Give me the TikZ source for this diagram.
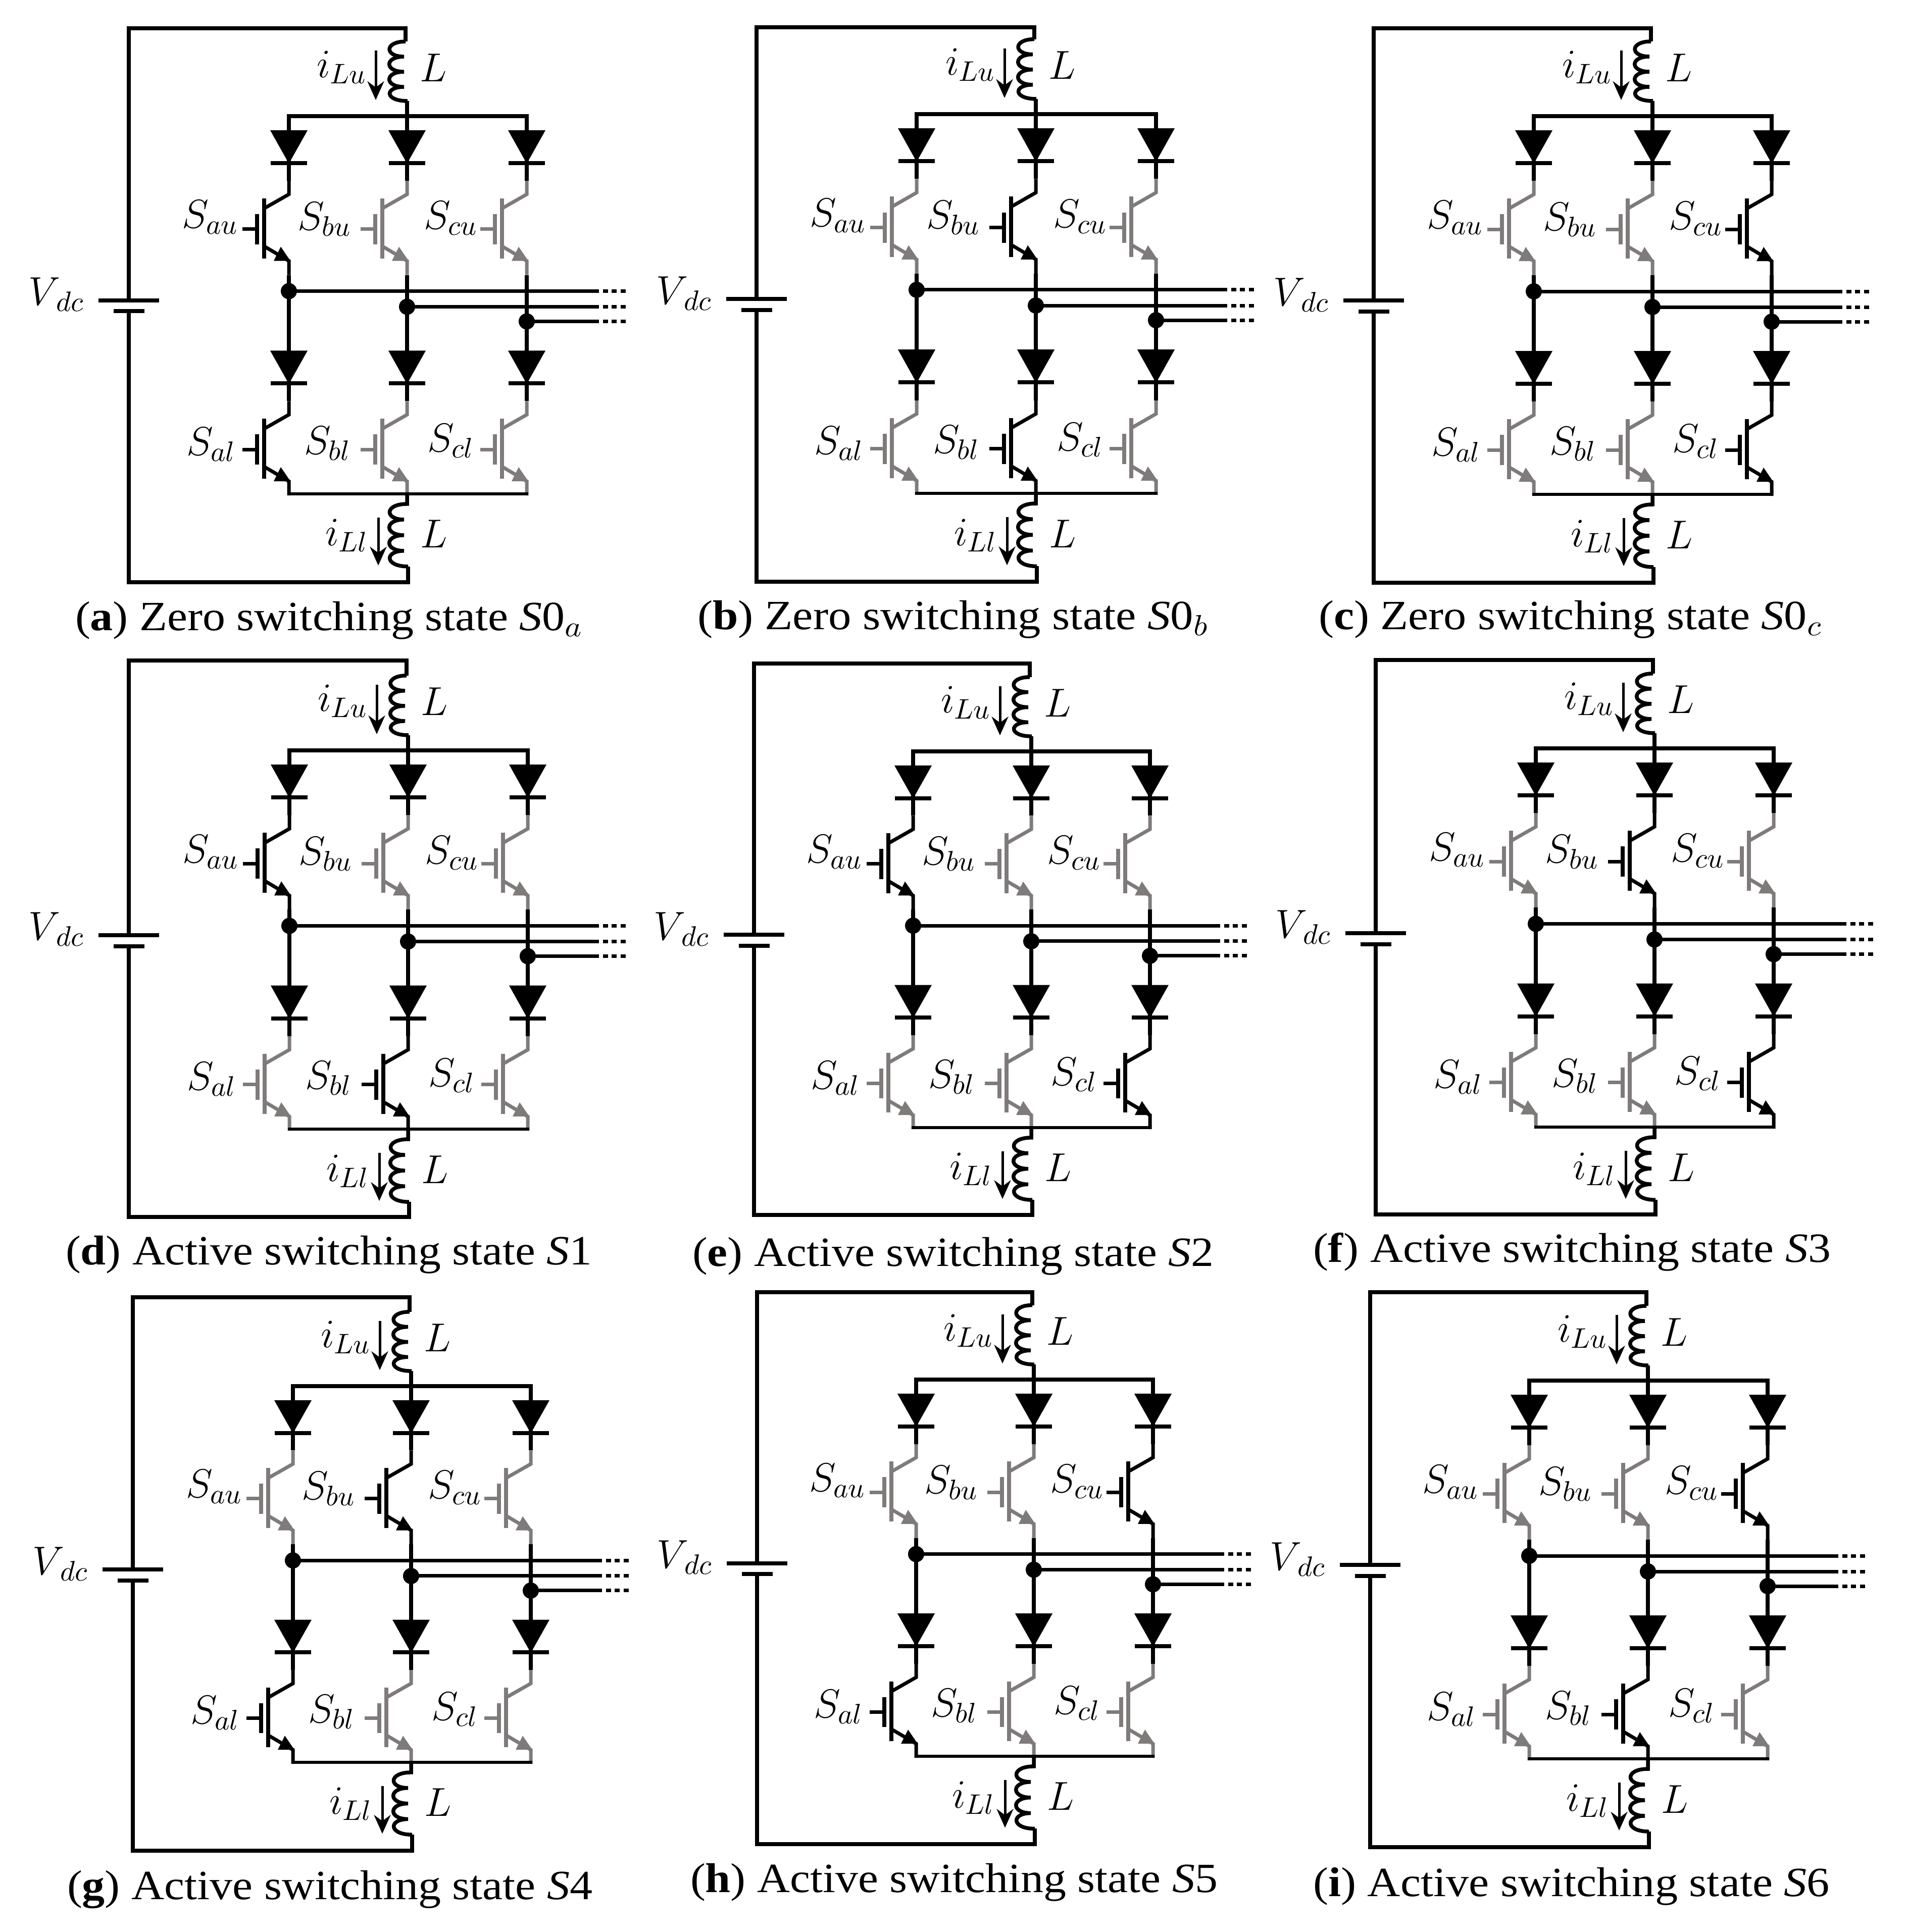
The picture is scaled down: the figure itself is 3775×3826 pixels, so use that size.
\RequirePackage{fix-cm}
\documentclass[tikz,border=0pt]{standalone}
\usepackage{fontspec}
\newfontfamily\capfont{Liberation Serif}
\usetikzlibrary{arrows.meta}
\definecolor{offgray}{HTML}{7F7B7B}
\tikzset{
  wire/.style={draw=black,line width=1.5pt,line join=miter},
  thinwire/.style={draw=black,line width=1.3pt},
  phaseline/.style={draw=black,line width=1.4pt},
  phasedots/.style={draw=black,line width=1.4pt,dash pattern=on 2pt off 1.5pt},
  plate/.style={draw=black,line width=1.6pt},
  jdot/.style={circle,fill=black,draw=none,inner sep=0pt,minimum size=6.4pt},
  lab/.style={anchor=base west,inner sep=0pt,font=\fontsize{16}{19}\selectfont},
  captext/.style={anchor=base west,inner sep=0pt,font=\fontsize{16.5}{20}\selectfont},
  currentarrow/.style={draw=black,line width=1pt,-{Stealth[length=7.4pt,width=6.6pt,inset=2.4pt]}},
}
% one switch with its leads; #1 leg x, #2 vertical offset, #3 colour
\newcommand\igbtsw[3]{%
  \begin{scope}[shift={(0,#2)}]
    \draw[draw=#3,line width=1.4pt] (#1,128) -- (#1,155) -- (#1-49,183);
    \draw[draw=#3,line width=1.45pt] (#1-49,163) -- (#1-49,282);
    \draw[draw=#3,line width=1.6pt] (#1-63,194) -- (#1-63,254);
    \draw[draw=#3,line width=1.4pt] (#1-92,224) -- (#1-63,224);
    \draw[draw=#3,line width=1.4pt] (#1-49,258) -- (#1,287) -- (#1,315);
    \fill[#3] (#1-16,259) -- (#1+3,287) -- (#1-30,287) -- cycle;
  \end{scope}}
% one diode; #1 leg x, #2 vertical offset
\newcommand\diodeup[2]{%
  \begin{scope}[shift={(0,#2)}]
    \fill[black] (#1-37,28) -- (#1+37,28) -- (#1,94) -- cycle;
    \draw[plate] (#1-36,93) -- (#1+36,93);
  \end{scope}}
% #1 id, #2 rail x, #3 xa, #4 xb, #5 xc, #6 top y, #7 bus y, #8 bottom bus y, #9 bottom y
\newcommand\panelgeom[9]{%
  \def\pid{#1}\def\rail{#2}\def\xa{#3}\def\xb{#4}\def\xc{#5}%
  \def\ytop{#6}\def\ybus{#7}\def\ybb{#8}\def\ybot{#9}}
% #1 solid end, #2 dotted end, #3 upper on-leg (1..3), #4 lower on-leg (1..3)
% #5 caption x, #6 caption baseline, #7 caption width, #8 caption text
\newcommand\paneldraw[8]{%
  \pgfmathsetmacro\ysc{(\ybb-\ybus)/749}%
  \pgfmathsetlengthmacro\capw{(#7)*0.2pt}%
  \begin{scope}[shift={(0,\ybus)},yscale=\ysc]
    % switches
    \ifnum#3=1 \def\ca{black}\else\def\ca{offgray}\fi
    \ifnum#3=2 \def\cb{black}\else\def\cb{offgray}\fi
    \ifnum#3=3 \def\cc{black}\else\def\cc{offgray}\fi
    \ifnum#4=1 \def\da{black}\else\def\da{offgray}\fi
    \ifnum#4=2 \def\db{black}\else\def\db{offgray}\fi
    \ifnum#4=3 \def\dc{black}\else\def\dc{offgray}\fi
    \igbtsw{\xa}{0}{\ca}\igbtsw{\xb}{0}{\cb}\igbtsw{\xc}{0}{\cc}%
    \igbtsw{\xa}{437}{\da}\igbtsw{\xb}{437}{\db}\igbtsw{\xc}{437}{\dc}%
    % diodes
    \diodeup{\xa}{0}\diodeup{\xb}{0}\diodeup{\xc}{0}%
    \diodeup{\xa}{437}\diodeup{\xb}{437}\diodeup{\xc}{437}%
    % legs
    \foreach \lx in {\xa,\xb,\xc}{
      \draw[wire] (\lx,0) -- (\lx,128);
      \draw[wire] (\lx,315) -- (\lx,565);
    }
    % buses
    \draw[wire] (\xa,30) -- (\xa,0) -- (\xc,0) -- (\xc,30);
    \draw[thinwire] (\xa-3,749) -- (\xc+3,749);
    \draw[wire] (\xb,0) -- (\xb,-30);
    % junctions and phase lines
    \node[jdot] (\pid-ja) at (\xa,347) {};
    \node[jdot] (\pid-jb) at (\xb,378) {};
    \node[jdot] (\pid-jc) at (\xc,407) {};
    \coordinate (\pid-ea) at (#1,347);
    \coordinate (\pid-eb) at (#1,378);
    \coordinate (\pid-ec) at (#1,407);
    \coordinate (\pid-fa) at (#2,347);
    \coordinate (\pid-fb) at (#2,378);
    \coordinate (\pid-fc) at (#2,407);
    \foreach \ph in {a,b,c}{
      \draw[phaseline] (\pid-j\ph.center) -- (\pid-e\ph);
      \draw[phasedots] (\pid-e\ph) -- (\pid-f\ph);
    }
    % inductors
    \draw[wire] (\xb-3,-148) .. controls (\xb-45,-148) and (\xb-45,-118) .. (\xb-6,-118)
       .. controls (\xb-45,-118) and (\xb-45,-88) .. (\xb-6,-88)
       .. controls (\xb-45,-88) and (\xb-45,-58) .. (\xb-6,-58)
       .. controls (\xb-45,-58) and (\xb-45,-30) .. (\xb+1,-30);
    \draw[wire] (\xb,749) -- (\xb,769) .. controls (\xb-45,769) and (\xb-45,800) .. (\xb-6,800)
       .. controls (\xb-45,800) and (\xb-45,831) .. (\xb-6,831)
       .. controls (\xb-45,831) and (\xb-45,862) .. (\xb-6,862)
       .. controls (\xb-45,862) and (\xb-45,893) .. (\xb+2,893);
    \coordinate (\pid-lt) at (\xb-3,-148);
    \coordinate (\pid-lb) at (\xb+2,893);
    % current arrows
    \draw[currentarrow] (\xb-62,-130) -- (\xb-62,-32);
    \draw[currentarrow] (\xb-57,796) -- (\xb-57,891);
    % battery
    \coordinate (\pid-bt) at (\rail,365);
    \coordinate (\pid-bb) at (\rail,387);
    \draw[plate] (\rail-60,365) -- (\rail+60,365);
    \draw[plate] (\rail-30,387) -- (\rail+31,387);
    % labels
    \node[lab] (\pid-sau) at (\xa-213,222) {$S_{au}$};
    \node[lab] (\pid-sbu) at (\xb-218,226) {$S_{bu}$};
    \node[lab] (\pid-scu) at (\xc-205,224) {$S_{cu}$};
    \node[lab] (\pid-sal) at (\xa-204,672) {$S_{al}$};
    \node[lab] (\pid-sbl) at (\xb-205,670) {$S_{bl}$};
    \node[lab] (\pid-scl) at (\xc-198,665) {$S_{cl}$};
    \node[lab] (\pid-ilu) at (\xb-180,-77) {$i_{Lu}$};
    \node[lab] (\pid-ill) at (\xb-163,852) {$i_{Ll}$};
    \node[lab] (\pid-lu) at (\xb+24,-69) {$L$};
    \node[lab] (\pid-ll) at (\xb+25,856) {$L$};
    \node[lab] (\pid-vdc) at (\rail-200,375) {$V_{\,dc}$};
  \end{scope}
  % outer rails
  \draw[wire] (\pid-bt) -- (\rail,\ytop) -- (\xb-3,\ytop) -- (\pid-lt);
  \draw[wire] (\pid-bb) -- (\rail,\ybot) -- (\xb+2,\ybot) -- (\pid-lb);
  % caption
  \node[captext] (\pid-cap) at (#5,#6) {\resizebox{\capw}{\height}{\capfont #8}};
}
\begin{document}
\begin{tikzpicture}[x=0.2pt,y=-0.2pt]
\useasboundingbox (0,0) rectangle (3775,3826);
\panelgeom{a}{255}{572}{806}{1043}{56}{230}{978}{1153}
\paneldraw{1176}{1240}{1}{1}{148}{1248}{1006}{(\textbf{a}) Zero switching state \textit{S}0$_{a}$}
\panelgeom{b}{1498}{1815}{2051}{2289}{54}{226}{977}{1152}
\paneldraw{2420}{2487}{2}{2}{1380}{1246}{1012}{(\textbf{b}) Zero switching state \textit{S}0$_{b}$}
\panelgeom{c}{2720}{3037}{3272}{3508}{56}{230}{979}{1154}
\paneldraw{3638}{3703}{3}{3}{2610}{1246}{997}{(\textbf{c}) Zero switching state \textit{S}0$_{c}$}
\panelgeom{d}{255}{573}{808}{1045}{1308}{1486}{2236}{2410}
\paneldraw{1176}{1239}{1}{2}{129}{2504}{1042}{(\textbf{d}) Active switching state \textit{S}1}
\panelgeom{e}{1493}{1808}{2042}{2277}{1314}{1488}{2233}{2406}
\paneldraw{2406}{2474}{1}{3}{1370}{2507}{1032}{(\textbf{e}) Active switching state \textit{S}2}
\panelgeom{f}{2724}{3041}{3276}{3512}{1307}{1482}{2232}{2405}
\paneldraw{3646}{3710}{2}{3}{2599}{2499}{1025}{(\textbf{f}) Active switching state \textit{S}3}
\panelgeom{g}{263}{580}{814}{1051}{2569}{2745}{3490}{3665}
\paneldraw{1182}{1248}{2}{1}{132}{3761}{1040}{(\textbf{g}) Active switching state \textit{S}4}
\panelgeom{h}{1499}{1814}{2047}{2283}{2559}{2732}{3478}{3652}
\paneldraw{2414}{2481}{3}{1}{1366}{3747}{1044}{(\textbf{h}) Active switching state \textit{S}5}
\panelgeom{i}{2713}{3028}{3263}{3500}{2559}{2734}{3483}{3658}
\paneldraw{3630}{3698}{3}{2}{2599}{3755}{1023}{(\textbf{i}) Active switching state \textit{S}6}
\end{tikzpicture}
\end{document}
